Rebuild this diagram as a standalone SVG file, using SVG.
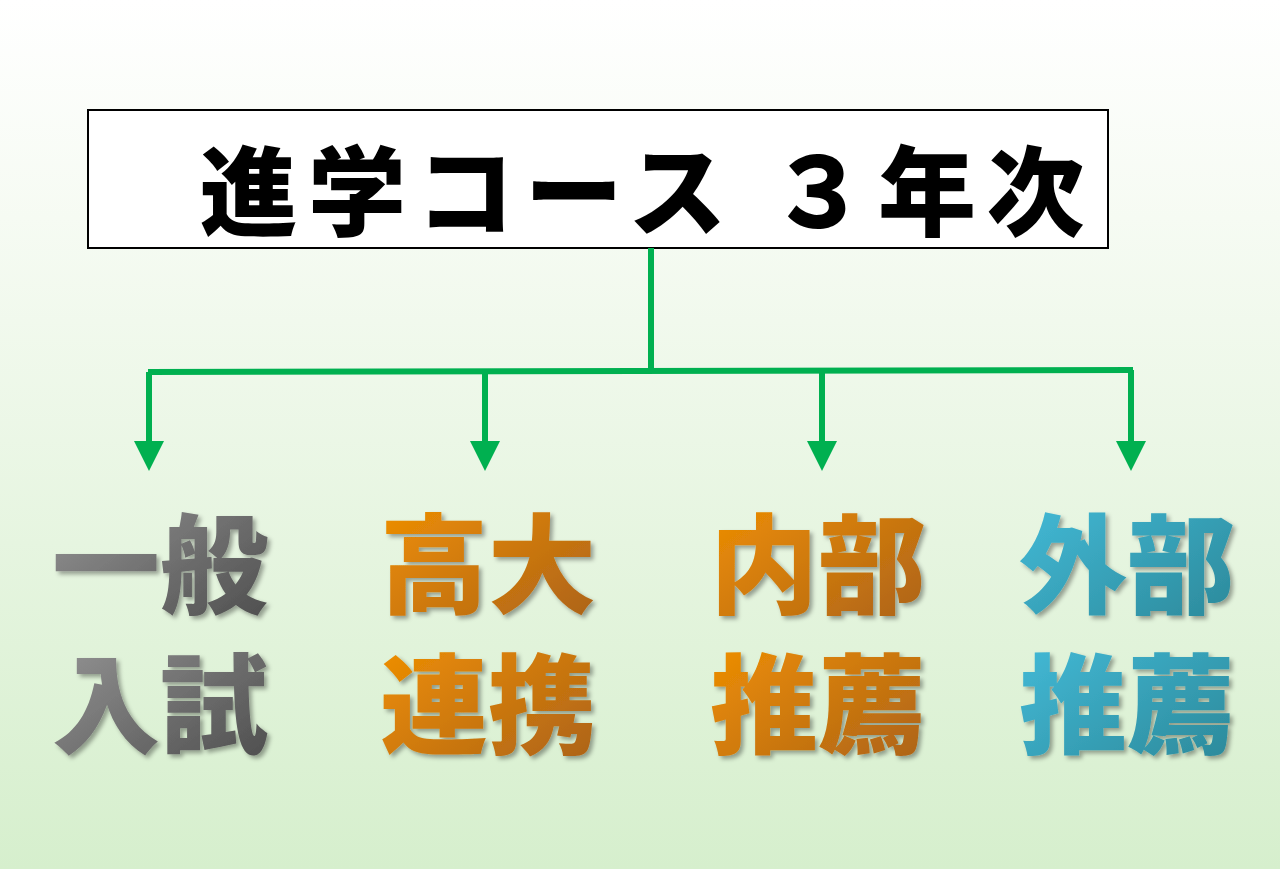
<svg xmlns="http://www.w3.org/2000/svg" width="1280" height="869" viewBox="0 0 1280 869">
<defs>
<linearGradient id="bg" x1="0" y1="0" x2="0" y2="1"><stop offset="0" stop-color="#ffffff"/><stop offset="0.25" stop-color="#f6fbf3"/><stop offset="1" stop-color="#d6efcd"/></linearGradient>
<linearGradient id="gGray" x1="0" y1="0" x2="1" y2="1"><stop offset="0" stop-color="#9a9a9a"/><stop offset="1" stop-color="#4a4a4a"/></linearGradient>
<linearGradient id="gOr" x1="0" y1="0" x2="1" y2="1"><stop offset="0" stop-color="#f59300"/><stop offset="1" stop-color="#a8601a"/></linearGradient>
<linearGradient id="gTe" x1="0" y1="0" x2="1" y2="1"><stop offset="0" stop-color="#45bedc"/><stop offset="1" stop-color="#2a8696"/></linearGradient>
<marker id="ah" viewBox="0 0 10 10" refX="0" refY="5" markerWidth="5" markerHeight="5" orient="auto" markerUnits="strokeWidth"><path d="M0,0 L10,5 L0,10 z" fill="#00b050"/></marker>
<filter id="sh" x="-10%" y="-10%" width="130%" height="130%"><feDropShadow dx="3" dy="3" stdDeviation="2" flood-color="#000" flood-opacity="0.35"/></filter>
</defs>
<style>
.t{font-family:"Noto Sans CJK JP",sans-serif;font-weight:900;text-anchor:middle}
.lbl{font-size:108px;filter:url(#sh)}
.c{stroke:#00b050;stroke-width:6;fill:none}
</style>
<rect width="1280" height="869" fill="url(#bg)"/>
<g id="title"><rect x="88" y="110" width="1020" height="138" fill="#fff" stroke="#000" stroke-width="2"/>
<text class="t" x="642" y="228" font-size="98" fill="#000" textLength="885" lengthAdjust="spacing">進学コース ３年次</text></g>
<g id="connectors">
<polyline class="c" points="651,248 651,372"/>
<polyline class="c" points="148,372 1133,370"/>
<line class="c" x1="149" y1="372" x2="149" y2="441" marker-end="url(#ah)"/>
<line class="c" x1="485" y1="372" x2="485" y2="441" marker-end="url(#ah)"/>
<line class="c" x1="822" y1="371" x2="822" y2="441" marker-end="url(#ah)"/>
<line class="c" x1="1131" y1="370" x2="1131" y2="441" marker-end="url(#ah)"/>
</g>
<g id="n1"><text class="t lbl" fill="url(#gGray)" x="160" y="605">一般</text><text class="t lbl" fill="url(#gGray)" x="160" y="745">入試</text></g>
<g id="n2"><text class="t lbl" fill="url(#gOr)" x="488" y="605">高大</text><text class="t lbl" fill="url(#gOr)" x="488" y="745">連携</text></g>
<g id="n3"><text class="t lbl" fill="url(#gOr)" x="818" y="605">内部</text><text class="t lbl" fill="url(#gOr)" x="818" y="745">推薦</text></g>
<g id="n4"><text class="t lbl" fill="url(#gTe)" x="1127" y="605">外部</text><text class="t lbl" fill="url(#gTe)" x="1127" y="745">推薦</text></g>
</svg>
